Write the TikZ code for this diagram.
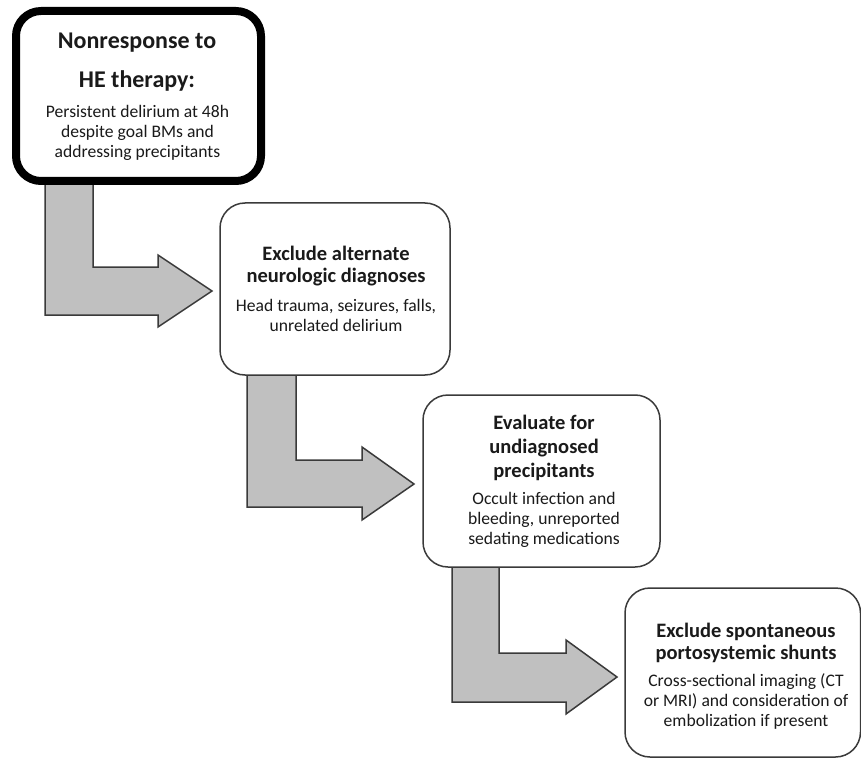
\documentclass[tikz,border=0pt]{standalone}
\usepackage{fontspec}
\setmainfont{Carlito}
\usetikzlibrary{calc,backgrounds}
\definecolor{edge}{HTML}{3A3A3A}
\definecolor{arrowfill}{HTML}{C0C0C0}
\definecolor{ink}{HTML}{1A1A1A}
\begin{document}
\begin{tikzpicture}[x=1pt,y=-1pt,
  box/.style={draw=edge, line width=1.5pt, rounded corners=25pt, fill=white, outer sep=0pt, inner sep=0pt},
  startbox/.style={box, draw=black, line width=8pt},
  title/.style={font=\fontsize{20.5}{22}\selectfont\bfseries, align=center, text=ink},
  body/.style={font=\fontsize{17.6}{20}\selectfont, align=center, text=ink},
  blockarrow/.style={draw=edge, line width=1.5pt, fill=arrowfill, line join=miter}]
\useasboundingbox (0,0) rectangle (861,759);
% boxes
\node[startbox, minimum width=245pt, minimum height=170pt] (b1) at (138.5,96) {};
\node[box, minimum width=230pt, minimum height=172pt] (b2) at (335,289) {};
\node[box, minimum width=237pt, minimum height=172pt] (b3) at (541.5,481) {};
\node[box, minimum width=235.5pt, minimum height=169pt] (b4) at (742.75,672.5) {};
% texts
\node[title, font=\fontsize{24}{39}\selectfont\bfseries] (t1) at (137,62.5) {Nonresponse to\\HE therapy:};
\node[body] (d1) at (137.5,133) {Persistent delirium at 48h\\despite goal BMs and\\addressing precipitants};
\node[title] (t2) at (336,266) {Exclude alternate\\neurologic diagnoses};
\node[body] (d2) at (336,315) {Head trauma, seizures, falls,\\unrelated delirium};
\node[title, font=\fontsize{20.5}{24}\selectfont\bfseries] (t3) at (544,447.5) {Evaluate for\\undiagnosed\\precipitants};
\node[body] (d3) at (544,520) {Occult infection and\\bleeding, unreported\\sedating medications};
\node[title] (t4) at (746,642.5) {Exclude spontaneous\\portosystemic shunts};
\node[body] (d4) at (746,701.5) {Cross-sectional imaging (CT\\or MRI) and consideration of\\embolization if present};
% bent block arrows
\begin{pgfonlayer}{background}
\draw[blockarrow] ($(b1.south west)+(29,0)$) coordinate (s1) -- ++(48,0) -- ++(0,86) -- ++(65,0) -- ++(0,-12)
  -- ($(b2.west)+(-8,2)$) coordinate (p1) -- ++(-54,36) -- ++(0,-12) -| (s1) -- cycle;
\draw[blockarrow] ($(b2.south west)+(27,0)$) coordinate (s2) -- ++(49,0) -- ++(0,85) -- ++(66,0) -- ++(0,-13)
  -- ($(b3.west)+(-9,3)$) coordinate (p2) -- ++(-52,36) -- ++(0,-13) -| (s2) -- cycle;
\draw[blockarrow] ($(b3.south west)+(29,0)$) coordinate (s3) -- ++(47,0) -- ++(0,86) -- ++(67,0) -- ++(0,-13)
  -- ($(b4.west)+(-8,4.5)$) coordinate (p3) -- ++(-51,37) -- ++(0,-12) -| (s3) -- cycle;
\end{pgfonlayer}
\end{tikzpicture}
\end{document}
